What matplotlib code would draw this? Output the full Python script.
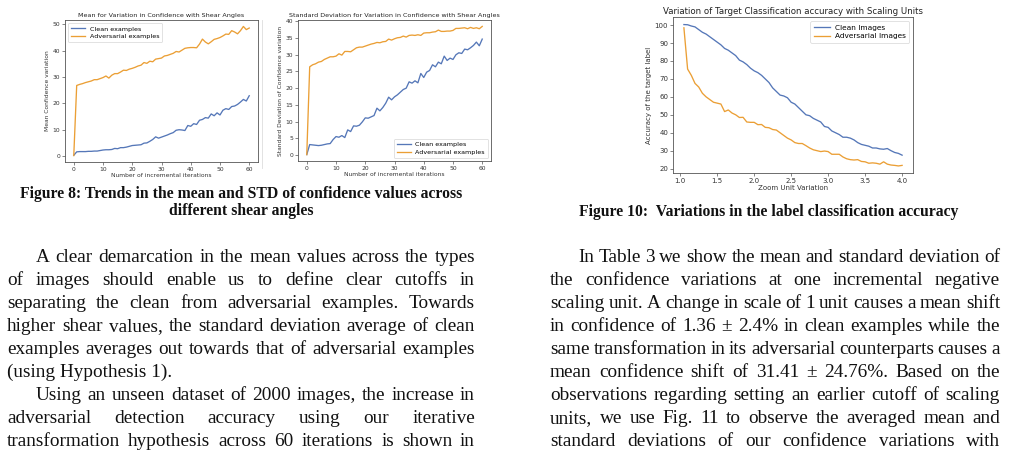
import numpy as np
import matplotlib.pyplot as plt

W, H = 1027, 454
BLUE = "#5577b8"
ORANGE = "#eb9f35"
SERIF = "Liberation Serif"

# ── data ────────────────────────────────────────────────────────────────────
iterations = np.arange(61)

mean_clean = [0.3, 1.6, 1.7, 1.7, 1.7, 1.8, 1.8, 1.9, 1.9, 2.1,
              2.3, 2.4, 2.4, 2.5, 2.9, 2.8, 3.2, 3.2, 3.4, 3.7,
              4.0, 4.1, 4.2, 4.3, 4.9, 5.0, 5.6, 6.3, 7.3, 6.8,
              7.2, 7.6, 8.0, 8.5, 8.9, 9.8, 10.0, 9.9, 9.7, 11.6,
              11.3, 12.3, 12.0, 13.6, 13.9, 14.6, 14.4, 16.0, 15.3, 16.4,
              15.6, 17.4, 18.0, 17.7, 18.8, 19.0, 19.6, 20.5, 21.5, 20.9,
              22.9]
mean_adv = [0.2, 26.8, 27.2, 27.5, 27.9, 28.2, 28.5, 29.0, 29.0, 29.4,
            29.8, 30.4, 29.6, 30.7, 31.3, 31.3, 31.9, 32.6, 32.5, 33.0,
            33.3, 33.7, 34.2, 34.5, 35.5, 35.2, 36.0, 35.8, 36.8, 37.0,
            37.2, 38.0, 38.2, 38.6, 39.0, 39.7, 39.5, 40.2, 40.9, 41.1,
            41.2, 41.2, 41.1, 42.5, 44.4, 43.3, 42.6, 43.4, 44.3, 44.6,
            45.0, 45.6, 46.3, 46.2, 47.6, 47.1, 46.4, 47.6, 49.2, 48.0,
            48.6]

std_clean = [0.1, 3.1, 3.0, 2.9, 2.8, 2.9, 3.1, 3.3, 3.4, 4.6,
             5.5, 5.3, 5.8, 5.2, 7.5, 7.0, 8.7, 8.6, 8.9, 9.9,
             11.1, 11.0, 11.4, 11.8, 14.0, 13.2, 14.2, 15.5, 17.3, 16.5,
             17.4, 18.0, 18.8, 19.6, 20.0, 21.9, 21.5, 22.2, 21.6, 24.4,
             23.2, 24.8, 25.3, 27.0, 26.4, 27.8, 27.3, 29.6, 28.3, 29.0,
             28.6, 30.0, 30.6, 30.4, 31.7, 31.5, 32.1, 32.8, 33.8, 32.7,
             34.7]
std_adv = [0.1, 26.4, 27.0, 27.3, 27.8, 28.0, 28.6, 29.0, 29.4, 29.4,
           29.6, 30.3, 29.9, 31.0, 31.0, 30.9, 31.5, 32.1, 32.3, 32.3,
           32.6, 32.9, 33.2, 33.4, 33.7, 33.6, 33.9, 34.0, 34.7, 34.4,
           34.8, 35.1, 35.2, 35.6, 35.3, 35.8, 35.9, 35.8, 36.0, 35.8,
           36.5, 36.6, 36.6, 36.8, 36.9, 37.4, 37.0, 37.0, 37.1, 37.1,
           37.3, 37.9, 37.9, 38.0, 38.1, 37.8, 38.2, 37.9, 38.1, 37.8,
           38.5]

zoom_units = np.round(np.arange(1.05, 4.001, 0.05), 2)
acc_clean = [100.3, 100.2, 99.5, 99.0, 97.5, 96.0, 95.0, 93.5, 92.0, 90.5,
             89.0, 87.0, 86.0, 84.5, 83.0, 80.5, 79.5, 78.0, 76.0, 74.5,
             73.5, 72.0, 70.0, 68.0, 65.0, 63.0, 61.0, 60.5, 59.5, 57.0,
             56.0, 54.0, 52.0, 50.0, 49.5, 48.0, 47.0, 46.0, 43.5, 43.0,
             41.0, 40.0, 39.0, 37.5, 37.5, 37.0, 36.0, 34.5, 33.5, 33.0,
             32.5, 31.5, 31.5, 31.0, 30.8, 31.2, 30.0, 29.0, 28.5, 27.5]
acc_adv = [98.5, 75.5, 72.0, 67.5, 65.5, 62.0, 60.0, 58.5, 57.0, 56.5,
           56.0, 51.8, 52.7, 51.0, 50.0, 48.5, 48.6, 46.0, 45.8, 45.8,
           44.5, 44.6, 43.0, 42.8, 41.8, 41.5, 40.0, 38.5, 37.0, 36.0,
           34.5, 34.0, 34.0, 32.8, 31.5, 30.5, 30.0, 29.5, 29.8, 29.5,
           28.0, 28.0, 28.0, 26.5, 25.5, 25.0, 24.8, 25.0, 24.0, 23.8,
           23.0, 23.2, 23.0, 22.5, 23.8, 22.5, 22.0, 21.8, 21.5, 21.8]

left_lines = [
    "A clear demarcation in the mean values across the types",
    "of images should enable us to define clear cutoffs in",
    "separating the clean from adversarial examples. Towards",
    "higher shear values, the standard deviation average of clean",
    "examples averages out towards that of adversarial examples",
    "(using Hypothesis 1).",
    "Using an unseen dataset of 2000 images, the increase in",
    "adversarial detection accuracy using our iterative",
    "transformation hypothesis across 60 iterations is shown in",
]
right_lines = [
    "In Table 3 we show the mean and standard deviation of",
    "the confidence variations at one incremental negative",
    "scaling unit. A change in scale of 1 unit causes a mean shift",
    "in confidence of 1.36 \u00b1 2.4% in clean examples while the",
    "same transformation in its adversarial counterparts causes a",
    "mean confidence shift of 31.41 \u00b1 24.76%. Based on the",
    "observations regarding setting an earlier cutoff of scaling",
    "units, we use Fig. 11 to observe the averaged mean and",
    "standard deviations of our confidence variations with",
]

fig = plt.figure(figsize=(W / 100, H / 100), dpi=100)
renderer = fig.canvas.get_renderer()


def box(l, t, r, b):
    return [l / W, 1 - b / H, (r - l) / W, (b - t) / H]


def style(ax, fs):
    for s in ax.spines.values():
        s.set_color("#555555")
        s.set_linewidth(0.6)
    ax.tick_params(labelsize=fs, length=2, width=0.5, pad=1.5,
                   colors="#555555", labelcolor="#333333")


def chart(rect, x, clean, adv, title, xlabel, ylabel, labels, loc, fs, tfs):
    ax = fig.add_axes(box(*rect))
    ax.plot(x, clean, color=BLUE, lw=0.95, label=labels[0])
    ax.plot(x, adv, color=ORANGE, lw=0.95, label=labels[1])
    style(ax, fs)
    ax.set_title(title, fontsize=tfs, pad=2.5, color="#222222")
    ax.set_xlabel(xlabel, fontsize=fs, labelpad=1, color="#333333")
    ax.set_ylabel(ylabel, fontsize=fs, labelpad=2, color="#333333")
    leg = ax.legend(loc=loc, fontsize=fs + 0.3, handlelength=2.2,
                    borderpad=0.45, labelspacing=0.35, handletextpad=0.7)
    leg.get_frame().set_linewidth(0.5)
    leg.get_frame().set_edgecolor("#cccccc")
    return ax


# ── charts ──────────────────────────────────────────────────────────────────
ax1 = chart((65, 20, 258, 162), iterations, mean_clean, mean_adv,
            "Mean for Variation in Confidence with Shear Angles",
            "Number of incremental iterations", "Mean Confidence variation",
            ["Clean examples", "Adversarial examples"], "upper left", 4.3, 4.6)
ax1.set_xticks([0, 10, 20, 30, 40, 50, 60])
ax1.set_yticks([0, 10, 20, 30, 40, 50])

ax2 = chart((298, 20, 491, 161), iterations, std_clean, std_adv,
            "Standard Deviation for Variation in Confidence with Shear Angles",
            "Number of incremental iterations",
            "Standard Deviation of Confidence variation",
            ["Clean examples", "Adversarial examples"], "lower right", 4.3, 4.6)
ax2.set_xticks([0, 10, 20, 30, 40, 50, 60])
ax2.set_yticks([0, 5, 10, 15, 20, 25, 30, 35, 40])

ax3 = chart((673, 17.5, 913, 173), zoom_units, acc_clean, acc_adv,
            "Variation of Target Classification accuracy with Scaling Units",
            "Zoom Unit Variation", "Accuracy of the target label",
            ["Clean Images", "Adversarial Images"], "upper right", 5.0, 6.2)
ax3.set_xticks([1.0, 1.5, 2.0, 2.5, 3.0, 3.5, 4.0])
ax3.set_yticks([20, 30, 40, 50, 60, 70, 80, 90, 100])

# faint border of the first chart image
fig.add_artist(plt.Line2D([262 / W, 262 / W], [1 - 20 / H, 1 - 168 / H],
                          color="#dddddd", lw=0.6))


# ── page text ───────────────────────────────────────────────────────────────
def put(s, x, y, size, weight="normal", ha="left"):
    return fig.text(x / W, 1 - y / H, s, fontsize=size, family=SERIF,
                    weight=weight, ha=ha, va="baseline", color="#111111")


def width(t):
    return t.get_window_extent(renderer).width


def fit(s, target, weight="normal"):
    t = put(s, 0, 0, 10, weight)
    w = width(t)
    t.remove()
    return 10 * target / w


def justify(line, x0, x1, y, size):
    words = line.split()
    ts = [put(w, x0, y, size) for w in words]
    ws = [width(t) for t in ts]
    gap = (x1 - x0 - sum(ws)) / (len(words) - 1)
    x = x0
    for t, w in zip(ts, ws):
        t.set_x(x / W)
        x += w + gap


cap_fs = fit("Figure 8: Trends in the mean and STD of confidence values across",
             445, "bold")
put("Figure 8: Trends in the mean and STD of confidence values across",
    241, 198, cap_fs, "bold", "center")
put("different shear angles", 241, 214.5, cap_fs, "bold", "center")
put("Figure 10:  Variations in the label classification accuracy",
    768.5, 215.5, cap_fs, "bold", "center")

body_fs = fit("(using Hypothesis 1).", 165.5)
LEAD = 23.1
for i, line in enumerate(left_lines):
    y = 261.5 + i * LEAD
    if i == 5:
        put(line, 7, y, body_fs)
    else:
        justify(line, 36 if i in (0, 6) else 7, 475, y, body_fs)

for i, line in enumerate(right_lines):
    y = 261.5 + i * LEAD
    justify(line, 578 if i == 0 else 550, 1000, y, body_fs)

fig.savefig("out.png", dpi=100)
